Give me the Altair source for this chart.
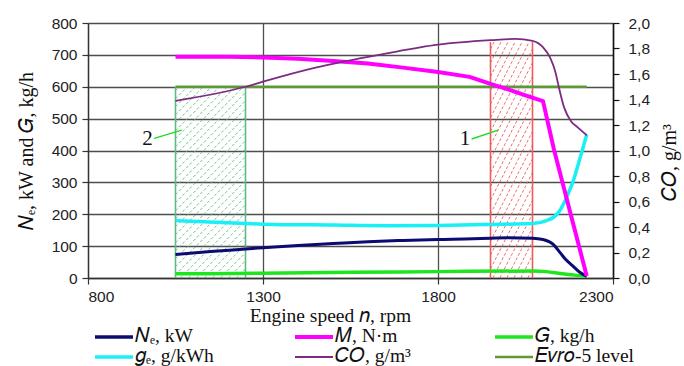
import math
import altair as alt
import pandas as pd

# ---------------- data ----------------
ne_rpm = [1050, 1150, 1250, 1300, 1400, 1500, 1600, 1700, 1800, 1900, 1950, 2000, 2070, 2100, 2130, 2150, 2165, 2185, 2205, 2225]
ne_val = [74, 83, 91, 95, 102, 108, 114, 118, 121, 123, 125, 126, 125, 121, 105, 78, 58, 38, 18, 5]

ge_rpm = [1050, 1250, 1300, 1500, 1650, 1800, 1950, 2070, 2110, 2140, 2150, 2160, 2172, 2185, 2196, 2210, 2225]
ge_val = [180, 171, 169, 166, 164, 165, 168, 171, 180, 200, 215, 235, 265, 300, 339, 392, 450]

g_rpm = [1050, 1300, 1550, 1800, 2070, 2110, 2150, 2190, 2225]
g_val = [13, 15, 18, 20, 22, 20, 14, 9, 6]

m_rpm = [1050, 1200, 1300, 1400, 1500, 1600, 1700, 1800, 1890, 1950, 2000, 2050, 2100, 2132, 2225]
m_val = [694, 694, 692, 688, 681, 673, 660, 646, 631, 609, 592, 573, 555, 400, 6]

co_rpm = [1050, 1250, 1300, 1450, 1650, 1800, 1950, 2020, 2070, 2100, 2120, 2135, 2145, 2160, 2180, 2200, 2225]
co_val = [1.39, 1.50, 1.54, 1.65, 1.76, 1.83, 1.865, 1.875, 1.86, 1.81, 1.73, 1.62, 1.50, 1.34, 1.23, 1.18, 1.12]

evro_rpm = [1050, 2225]
evro_val = [600, 600]

# zones: label, rpm from, rpm to, top value
zone_names = ["2", "1"]
zone_from = [1050, 1950]
zone_to = [1250, 2070]
zone_top = [600, 740]

S_NE = "𝑁ₑ, kW"
S_M = "𝑀, N·m"
S_G = "𝐺, kg/h"
S_GE = "𝑔ₑ, g/kWh"
S_CO = "𝐶𝑂, g/m³"
S_EV = "𝐸𝑣𝑟𝑜-5 level"
series_order = [S_NE, S_M, S_G, S_GE, S_CO, S_EV]
series_colors = ["#0b0b72", "#ff00ff", "#1ee61e", "#19f0f5", "#7d2a84", "#5b9a34"]
series_widths = [3.5, 4, 3.5, 3.5, 2, 2.5]

W, H = 525, 255
PAD_L, PAD_T = 88, 23
X_DOM = [800, 2300]
Y_DOM = [0, 800]

# pixel <-> data helpers (plot area geometry)
px = lambda r: (r - X_DOM[0]) * W / (X_DOM[1] - X_DOM[0])
py = lambda v: v * H / (Y_DOM[1] - Y_DOM[0])
inv_x = lambda x: X_DOM[0] + x * (X_DOM[1] - X_DOM[0]) / W
inv_y = lambda y: y * (Y_DOM[1] - Y_DOM[0]) / H


def long(name, xs, ys):
    return pd.DataFrame({"rpm": xs, "val": ys, "series": name})


def hatch(zone, r0, r1, top, angle_deg, spacing):
    # diagonal hatch lines clipped to a zone rectangle
    xa, xb, ht = px(r0), px(r1), py(top)
    k = math.tan(math.radians(angle_deg))
    rows = []
    c = xa - ht / k + spacing / 2
    while c < xb:
        xs, xe = max(xa, c), min(xb, c + ht / k)
        if xe > xs + 0.5:
            rows.append({"zone": zone, "r1": inv_x(xs), "v1": inv_y((xs - c) * k),
                         "r2": inv_x(xe), "v2": inv_y((xe - c) * k)})
        c += spacing
    return rows


hatch_df = pd.DataFrame(hatch("2", zone_from[0], zone_to[0], zone_top[0], 45, 8) +
                        hatch("1", zone_from[1], zone_to[1], zone_top[1], 63, 7))
edge_df = pd.DataFrame({"zone": zone_names * 2, "rpm": zone_from + zone_to, "top": zone_top * 2})
label_df = pd.DataFrame({"zone": zone_names, "rpm": [970, 1877], "val": [437, 436],
                         "lr1": [989, 1896], "lv1": [438, 436], "lr2": [1068, 1972], "lv2": [464, 464]})

# legend below the plot: 3 columns x 2 rows (page pixels -> data units)
leg_col_x = [95, 295, 495]
leg_row_y = [337, 357]
leg_len = 38
leg_rows = []
for i, s in enumerate(series_order):
    cx, ry = leg_col_x[i % 3], leg_row_y[i // 3]
    leg_rows.append({"series": s, "lw": series_widths[i],
                     "x1": inv_x(cx - PAD_L), "x2": inv_x(cx + leg_len - PAD_L),
                     "xt": inv_x(cx + leg_len + 2 - PAD_L),
                     "y": inv_y(PAD_T + H - ry)})
legend_df = pd.DataFrame(leg_rows)

# ---------------- encodings ----------------
x_scale = alt.Scale(domain=X_DOM, nice=False, zero=False)
x_enc = alt.X("rpm:Q", scale=x_scale,
              axis=alt.Axis(values=[800, 1300, 1800, 2300], format="d", title="Engine speed 𝑛, rpm",
                            grid=True, titleFontSize=19.5, titleX=242, titleAlign="center",
                            titlePadding=2))
y_scale = alt.Scale(domain=Y_DOM, nice=False)
y_axis = alt.Axis(values=list(range(0, 801, 100)), title="𝑁ₑ, kW  and  𝐺, kg/h", grid=True,
                  titleFontSize=20, titlePadding=15)

color = alt.Color("series:N", scale=alt.Scale(domain=series_order, range=series_colors), legend=None)
zone_stroke = alt.Scale(domain=zone_names, range=["#3cb36e", "#e3242b"])
hatch_stroke = alt.Scale(domain=zone_names, range=["#5cbd84", "#ef5b5b"])

hatch_layer = alt.Chart(hatch_df).mark_rule(strokeWidth=0.9, strokeDash=[3, 2]).encode(
    x=alt.X("r1:Q", scale=x_scale), x2="r2:Q",
    y=alt.Y("v1:Q", scale=y_scale, axis=y_axis), y2="v2:Q",
    stroke=alt.Stroke("zone:N", scale=hatch_stroke, legend=None))

edge_layer = alt.Chart(edge_df).mark_rule(strokeWidth=1.6).encode(
    x="rpm:Q", y=alt.Y("top:Q", scale=y_scale, axis=y_axis), y2=alt.datum(0),
    stroke=alt.Stroke("zone:N", scale=zone_stroke, legend=None))


def line_layer(name, xs, ys, sw, interp="monotone", first=False):
    return alt.Chart(long(name, xs, ys)).mark_line(interpolate=interp, strokeWidth=sw,
                                                   strokeJoin="round").encode(
        x=x_enc if first else alt.X("rpm:Q", scale=x_scale),
        y=alt.Y("val:Q", scale=y_scale, axis=y_axis), color=color)


lines = [
    line_layer(S_EV, evro_rpm, evro_val, 2.5, "linear", first=True),
    line_layer(S_G, g_rpm, g_val, 3.5),
    line_layer(S_GE, ge_rpm, ge_val, 3.5),
    line_layer(S_NE, ne_rpm, ne_val, 3),
    line_layer(S_M, m_rpm, m_val, 4, "linear"),
]

leader_layer = alt.Chart(label_df).mark_rule(color="#22dd22", strokeWidth=1.5).encode(
    x="lr1:Q", x2="lr2:Q", y=alt.Y("lv1:Q", scale=y_scale, axis=y_axis), y2="lv2:Q")

label_layer = alt.Chart(label_df).mark_text(font="Liberation Serif", fontSize=21, color="#111",
                                            baseline="middle", align="center").encode(
    x="rpm:Q", y=alt.Y("val:Q", scale=y_scale, axis=y_axis), text="zone:N")

legend_lines = alt.Chart(legend_df).mark_rule().encode(
    x="x1:Q", x2="x2:Q", y=alt.Y("y:Q", scale=y_scale, axis=y_axis),
    color=color, strokeWidth=alt.StrokeWidth("lw:Q", scale=None))

legend_text = alt.Chart(legend_df).mark_text(font="Liberation Serif", fontSize=19.5, color="#111",
                                             align="left", baseline="middle", dy=-1).encode(
    x="xt:Q", y=alt.Y("y:Q", scale=y_scale, axis=y_axis), text="series:N")

left = alt.layer(hatch_layer, edge_layer, *lines, leader_layer, label_layer, legend_lines, legend_text)

co_layer = alt.Chart(long(S_CO, co_rpm, co_val)).mark_line(interpolate="monotone", strokeWidth=1.8).encode(
    x=alt.X("rpm:Q", scale=x_scale),
    y=alt.Y("val:Q", scale=alt.Scale(domain=[0, 2], nice=False),
            axis=alt.Axis(orient="right", values=[round(0.2 * i, 1) for i in range(11)],
                          labelExpr="replace(format(datum.value, '.1f'), '.', ',')",
                          title="𝐶𝑂, g/m³", titleAngle=270, titleX=56, titleY=139,
                          titleAlign="center", titleBaseline="middle", titleFontSize=20,
                          grid=False, domainColor="#111", domainWidth=1.5, tickColor="#111",
                          labelPadding=9)),
    color=color)

chart = alt.layer(left, co_layer).resolve_scale(y="independent").properties(
    width=W, height=H,
    autosize=alt.AutoSizeParams(type="none"),
    padding={"left": PAD_L, "top": PAD_T, "right": 684 - PAD_L - W, "bottom": 366 - PAD_T - H},
    background="white",
).configure_view(stroke=None).configure_axis(
    labelFont="Liberation Sans", labelFontSize=15.5, labelColor="#222",
    titleFont="Liberation Serif", titleFontSize=18, titleFontWeight="normal", titleColor="#111",
    gridColor="#4e4e4e", gridWidth=1.3, gridOpacity=1,
    domainColor="#333", domainWidth=1.3, tickColor="#333", tickSize=6, tickWidth=1.2,
    labelPadding=5,
)

chart.save("out.html", embed_options={"renderer": "svg", "actions": False})
